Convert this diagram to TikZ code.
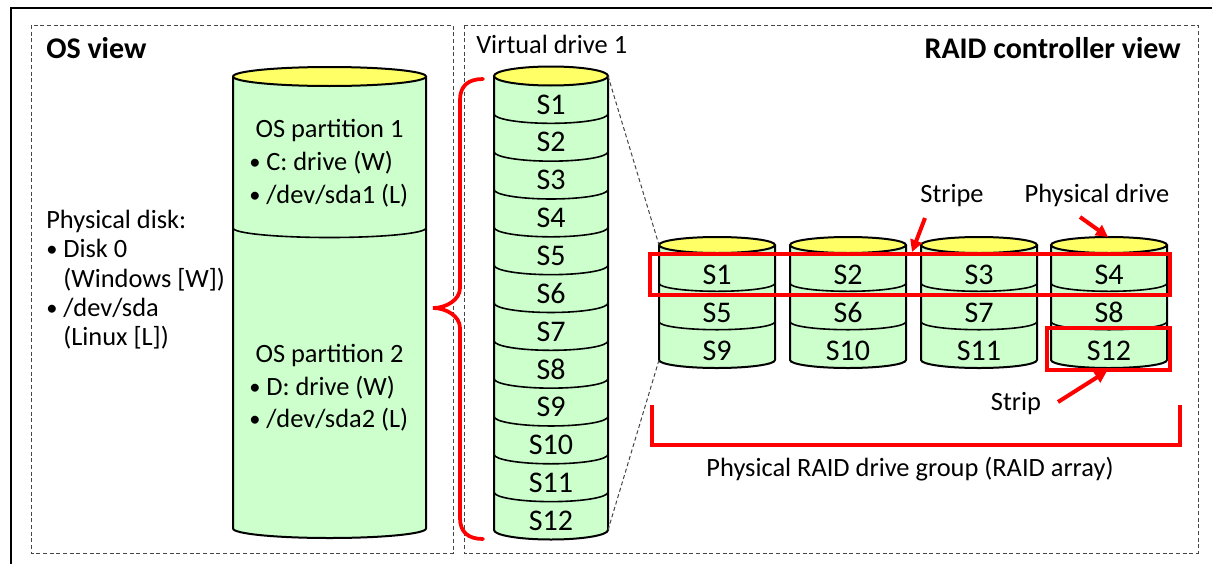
\documentclass[tikz,border=0pt]{standalone}
\usepackage{fontspec}
\setmainfont{Carlito}
\usetikzlibrary{arrows.meta}

\definecolor{diskgreen}{RGB}{204,255,204}
\definecolor{lidyellow}{RGB}{255,255,102}
\definecolor{boxgray}{RGB}{70,70,70}
\newcommand{\itemdot}{\makebox[12.75pt][l]{\raisebox{0.6pt}{\scalebox{0.85}{\textbullet}}}}

\begin{document}
\begin{tikzpicture}[x=0.75pt,y=-0.75pt,
  body/.style={fill=diskgreen},
  rim/.style={draw=black, line width=1.5pt, line join=round},
  lid/.style={draw=black, fill=lidyellow, line width=1.5pt},
  seg/.style={draw=black, line width=1.2pt},
  viewbox/.style={draw=boxgray, line width=0.75pt, dash pattern=on 3pt off 2pt},
  guide/.style={draw=boxgray, line width=0.75pt, dash pattern=on 3pt off 2pt},
  hilite/.style={draw=red, line width=2.6pt},
  pointer/.style={draw=red, line width=3pt, -{Triangle[length=9pt,width=9pt]}},
  txt/.style={font=\fontsize{19.8}{23}\selectfont, inner sep=0pt},
  slbl/.style={font=\fontsize{22.5}{27}\selectfont, inner sep=0pt},
  head/.style={font=\bfseries\fontsize{22.5}{27}\selectfont, inner sep=0pt}]

\useasboundingbox (0,0) rectangle (1212,564);

% Marco exterior
\draw[line width=1.2pt] (1212,8) -- (11,8) -- (11,564);

% Cajas de las dos vistas
\draw[viewbox] (31,25) rectangle (453,553);
\draw[viewbox] (464,25) rectangle (1198,553);

\node[head, anchor=base west] (oshead) at (46,58) {OS view};
\node[head, anchor=base east] (raidhead) at (1181,58) {RAID controller view};
\node[txt, anchor=base west] (vdhead) at (476,53) {Virtual drive 1};

% Disco fisico (vista del SO)
\fill[body] (233,76.5) -- (233,528.5) arc[start angle=180,end angle=0,x radius=96.5,y radius=9.5] -- (426,76.5) -- cycle;
\draw[rim] (233,76.5) -- (233,528.5) arc[start angle=180,end angle=0,x radius=96.5,y radius=9.5] -- (426,76.5);
\draw[seg] (233,228) arc[start angle=180,end angle=0,x radius=96.5,y radius=9.5];
\draw[lid] (329.5,76.5) ellipse[x radius=96.5,y radius=9.5];

\node[txt, anchor=base] (part1) at (329.5,137) {OS partition 1};
\node[txt, anchor=base west] (part1w) at (249,170) {\itemdot C: drive (W)};
\node[txt, anchor=base west] (part1l) at (249,203) {\itemdot /dev/sda1 (L)};
\node[txt, anchor=base] (part2) at (329.5,362) {OS partition 2};
\node[txt, anchor=base west] (part2w) at (249,395) {\itemdot D: drive (W)};
\node[txt, anchor=base west] (part2l) at (249,427) {\itemdot /dev/sda2 (L)};

% Texto del disco fisico
\node[txt, anchor=base west] (pdisk) at (46,228) {Physical disk:};
\node[txt, anchor=base west] (pdisk0) at (46,257) {\itemdot Disk 0};
\node[txt, anchor=base west] (pdiskw) at (63,287) {(Windows [W])};
\node[txt, anchor=base west] (pdiskl) at (46,316) {\itemdot /dev/sda};
\node[txt, anchor=base west] (pdisklx) at (63,345) {(Linux [L])};

% Llave roja
\draw[red, line width=2.8pt, line cap=round] (483,79) .. controls (468,79) and (460,86) .. (460,100)
  -- (460,288) .. controls (460,300) and (446,308) .. (433,308)
  .. controls (446,308) and (460,316) .. (460,328)
  -- (460,518) .. controls (460,532) and (468,539) .. (483,539);

% Unidad virtual
\fill[body] (494,76) -- (494,530) arc[start angle=180,end angle=0,x radius=57,y radius=9.5] -- (608,76) -- cycle;
\draw[rim] (494,76) -- (494,530) arc[start angle=180,end angle=0,x radius=57,y radius=9.5] -- (608,76);
\foreach \k in {1,...,11}
  \draw[seg] (494,{76+\k*37.83}) arc[start angle=180,end angle=0,x radius=57,y radius=9.5];
\draw[lid] (551,76) ellipse[x radius=57,y radius=9.5];
\foreach \k in {1,...,12}
  \node[slbl] (v\k) at (551,{104.4+(\k-1)*37.83}) {S\k};

\coordinate (vtr) at (608,76);
\coordinate (vbr) at (608,530);
\coordinate (d1tl) at (659,245);
\coordinate (d1bl) at (659,360);

% Unidades fisicas
\foreach \L [count=\d] in {659,790,921,1051} {
  \fill[body] (\L,245) -- (\L,360) arc[start angle=180,end angle=0,x radius=58,y radius=8] -- (\L+116,245) -- cycle;
  \draw[rim] (\L,245) -- (\L,360) arc[start angle=180,end angle=0,x radius=58,y radius=8] -- (\L+116,245);
  \draw[seg] (\L,283.3) arc[start angle=180,end angle=0,x radius=58,y radius=8];
  \draw[seg] (\L,321.7) arc[start angle=180,end angle=0,x radius=58,y radius=8];
  \draw[lid] (\L+58,245) ellipse[x radius=58,y radius=8];
  \foreach \r in {0,1,2} {
    \pgfmathtruncatemacro{\n}{\d+4*\r}
    \node[slbl] (s\n) at (\L+58,{274.5+\r*38.3}) {S\n};
  }
}

% Lineas de proyeccion
\draw[guide] (vtr) -- (d1tl);
\draw[guide] (vbr) -- (d1bl);

% Stripe y strip
\draw[hilite] (650,254) rectangle (1170,295);
\draw[hilite] (1047,328) rectangle (1170,370);

\node[txt, anchor=base] (stripe) at (952,202) {Stripe};
\node[txt, anchor=base] (pdrive) at (1097,202) {Physical drive};
\node[txt, anchor=base] (strip) at (1016,410) {Strip};

\coordinate (stripeA) at (925,218);
\coordinate (stripeB) at (912,252);
\coordinate (pdriveA) at (1080,217);
\coordinate (pdriveB) at (1108,237);
\coordinate (stripA) at (1058,402);
\coordinate (stripB) at (1107,371);
\draw[pointer] (stripeA) -- (stripeB);
\draw[pointer] (pdriveA) -- (pdriveB);
\draw[pointer] (stripA) -- (stripB);

% Grupo RAID
\draw[red, line width=3pt] (652,405) -- (652,445) -- (1180,445) -- (1180,405);
\node[txt, anchor=base] (group) at (910,476) {Physical RAID drive group (RAID array)};

\end{tikzpicture}
\end{document}
